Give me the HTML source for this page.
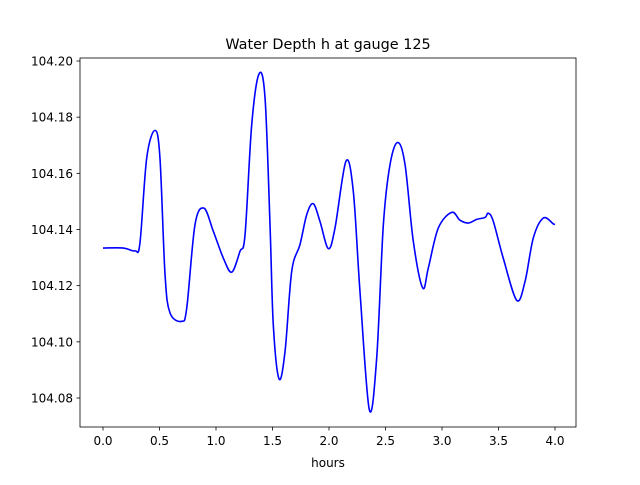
<!DOCTYPE html>
<html><head><meta charset="utf-8"><style>
body{margin:0;background:#fff}
svg text{font-family:"DejaVu Sans","Liberation Sans",sans-serif;fill:#000}
</style></head><body>
<svg width="640" height="480" xmlns="http://www.w3.org/2000/svg">
<rect width="640" height="480" fill="#fff"/>
<text x="328" y="49" font-size="14.4" text-anchor="middle">Water Depth h at gauge 125</text>
<g id="axes"></g>
<path id="line" fill="none" stroke="#0000ff" stroke-width="1.6" stroke-linejoin="round"/>
<rect x="80" y="58" width="496" height="369" fill="none" stroke="#000" stroke-width="0.8"/>
<text x="328" y="467" font-size="12" text-anchor="middle">hours</text>
</svg>
<script>
const hours=[0.0,0.18,0.283,0.327,0.387,0.46,0.504,0.549,0.593,0.696,0.741,0.814,0.894,0.976,1.065,1.139,1.212,1.257,1.316,1.381,1.434,1.478,1.507,1.558,1.611,1.670,1.743,1.803,1.861,1.920,1.994,2.053,2.150,2.215,2.274,2.357,2.422,2.481,2.540,2.608,2.673,2.746,2.829,2.879,2.967,3.086,3.159,3.233,3.307,3.381,3.410,3.454,3.542,3.661,3.735,3.808,3.897,3.985,4.0];
const depth=[104.1334,104.1334,104.1324,104.1352,104.1655,104.1753,104.1655,104.1239,104.1103,104.1073,104.1120,104.1417,104.1476,104.1394,104.1298,104.1248,104.1322,104.1381,104.1773,104.1954,104.1868,104.1417,104.1061,104.0868,104.0966,104.1251,104.1346,104.1453,104.1492,104.1429,104.1332,104.1405,104.1643,104.1536,104.1180,104.0758,104.0942,104.1417,104.1631,104.1710,104.1631,104.1358,104.1192,104.1263,104.1405,104.1461,104.1433,104.1423,104.1436,104.1443,104.1458,104.1429,104.1298,104.1148,104.1215,104.1370,104.1441,104.1420,104.1418];
const xTicks=[0.0,0.5,1.0,1.5,2.0,2.5,3.0,3.5,4.0];
const yTicks=[104.08,104.10,104.12,104.14,104.16,104.18,104.20];
const sx=v=>103+v*113;
const sy=v=>61+(104.20-v)*2808.3;
const NS="http://www.w3.org/2000/svg";
const g=document.getElementById('axes');
function mk(t,a){const e=document.createElementNS(NS,t);for(const k in a)e.setAttribute(k,a[k]);return e;}
xTicks.forEach(t=>{
  const l=mk('line',{x1:sx(t),x2:sx(t),y1:427,y2:430.5,stroke:'#000','stroke-width':0.8});
  
  
  g.appendChild(l);
  const tx=mk('text',{x:sx(t),y:445,'font-size':12,'text-anchor':'middle'});
  tx.textContent=t.toFixed(1);
  
  
  g.appendChild(tx);
});
yTicks.forEach(t=>{
  const l=mk('line',{x1:76.5,x2:80,y1:sy(t),y2:sy(t),stroke:'#000','stroke-width':0.8});
  
  
  g.appendChild(l);
  const tx=mk('text',{x:73,y:sy(t)+4.5,'font-size':12,'text-anchor':'end'});
  tx.textContent=t.toFixed(2);
  
  
  g.appendChild(tx);
});
const P=hours.map((h,i)=>[sx(h),sy(depth[i])]);
let d='M'+P[0][0]+','+P[0][1];
for(let i=0;i<P.length-1;i++){
  const p0=P[i-1]||P[i],p1=P[i],p2=P[i+1],p3=P[i+2]||P[i+1];
  const c1=[p1[0]+(p2[0]-p0[0])/6,p1[1]+(p2[1]-p0[1])/6];
  const c2=[p2[0]-(p3[0]-p1[0])/6,p2[1]-(p3[1]-p1[1])/6];
  d+=' C'+c1.join(',')+' '+c2.join(',')+' '+p2.join(',');
}
document.getElementById('line').setAttribute('d',d);
</script>
</body></html>
